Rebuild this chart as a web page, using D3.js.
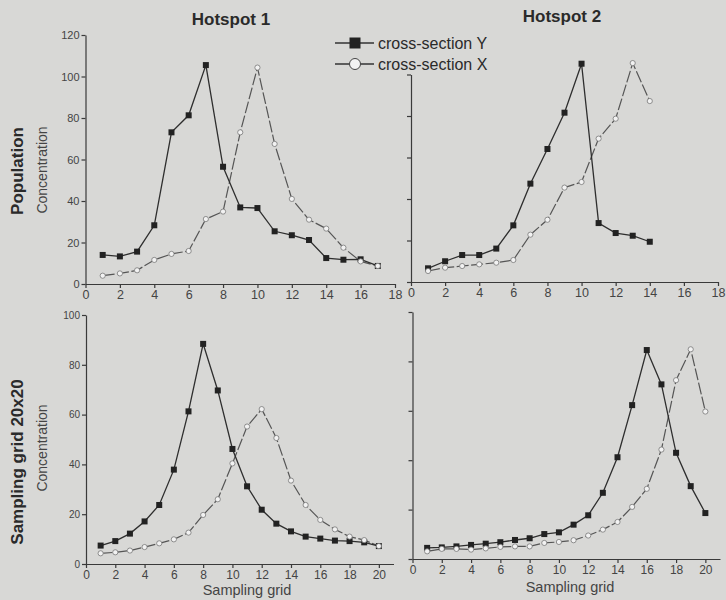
<!DOCTYPE html>
<html>
<head>
<meta charset="utf-8">
<script src="https://cdn.jsdelivr.net/npm/d3@7"></script>
<style>
  body { margin: 0; background: #d8d8d6; }
  svg { display: block; font-family: "Liberation Sans", Arial, sans-serif; }
  .axis path, .axis line { stroke: #3a3a3a; stroke-width: 1.2; }
  .axis text { fill: #444; }
</style>
</head>
<body>
<svg id="chart" width="726" height="600"></svg>
<script>
// values (x = sampling position 1..n)
const popHotspot1Y = [14, 13.3, 15.6, 28.3, 73.1, 81.3, 105.5, 56.5, 36.9, 36.6, 25.4, 23.5, 21.2, 12.5, 11.7, 11.9, 8.7];
const popHotspot1X = [4.0, 5.1, 6.6, 11.6, 14.5, 15.9, 31.3, 34.9, 73.1, 104.3, 67.5, 41.0, 31.0, 26.7, 17.5, 10.9, 8.7];
const popHotspot2Y = [6.6, 10.0, 13.0, 13.0, 16.1, 27.3, 47.4, 64.1, 81.6, 105.2, 28.4, 23.6, 22.3, 19.4];
const popHotspot2X = [5.3, 6.9, 7.7, 8.5, 9.3, 10.6, 22.8, 30.0, 45.5, 48.2, 69.1, 78.7, 105.5, 87.2];
const gridHotspot1Y = [7.4, 9.2, 12.2, 17.1, 23.7, 37.9, 61.3, 88.4, 69.7, 46.2, 31.2, 21.8, 16.2, 13.1, 11.0, 10.2, 9.4, 9.2, 8.7, 7.2];
const gridHotspot1X = [4.3, 4.7, 5.4, 6.8, 8.3, 9.9, 12.6, 19.7, 26.0, 40.4, 55.2, 62.2, 50.6, 33.5, 23.7, 17.7, 13.9, 11.0, 9.6, 7.2];
const gridHotspot2Y = [4.5, 4.7, 5.1, 5.7, 6.2, 6.8, 7.7, 8.4, 10.1, 10.8, 13.9, 17.7, 26.8, 41.2, 62.3, 84.6, 70.7, 43.0, 29.5, 18.6];
const gridHotspot2X = [3.1, 4.1, 4.1, 3.8, 4.3, 4.9, 5.1, 5.1, 6.5, 6.9, 7.6, 9.5, 11.9, 15.0, 21.1, 28.4, 44.3, 72.4, 84.9, 59.7];

const popTicksX = [0, 2, 4, 6, 8, 10, 12, 14, 16, 18];
const gridTicksX = [0, 2, 4, 6, 8, 10, 12, 14, 16, 18, 20];
const popTicksY = [0, 20, 40, 60, 80, 100, 120];
const gridTicksY = [0, 20, 40, 60, 80, 100];

const columnTitles = ['Hotspot 1', 'Hotspot 2'];
const rowTitles = ['Population', 'Sampling grid 20x20'];
const legendLabels = ['cross-section Y', 'cross-section X'];

const panels = [
  { ySeries: popHotspot1Y, xSeries: popHotspot1X, left: 85.5, right: 395, bottom: 284, top: 35,
    xMax: 18, yMax: 120, axisTop: 120, xTicks: popTicksX, yTicks: popTicksY, yLabels: true, yFont: 11, xFont: 12.5 },
  { ySeries: popHotspot2Y, xSeries: popHotspot2X, left: 411, right: 718, bottom: 282, top: 33,
    xMax: 18, yMax: 120, axisTop: 100, xTicks: popTicksX, yTicks: gridTicksY, yLabels: false, xFont: 12.5 },
  { ySeries: gridHotspot1Y, xSeries: gridHotspot1X, left: 86, right: 393.5, bottom: 564, top: 315,
    xMax: 21, yMax: 100, axisTop: 100, xTicks: gridTicksX, yTicks: gridTicksY, yLabels: true, yFont: 10, xFont: 12 },
  { ySeries: gridHotspot2Y, xSeries: gridHotspot2X, left: 412.5, right: 720, bottom: 559, top: 312,
    xMax: 21, yMax: 100, axisTop: 100, xTicks: gridTicksX, yTicks: gridTicksY, yLabels: false, xFont: 12 },
];

const svg = d3.select('#chart');

panels.forEach(p => {
  const x = d3.scaleLinear().domain([0, p.xMax]).range([p.left, p.right]);
  const y = d3.scaleLinear().domain([0, p.yMax]).range([p.bottom, p.top]);
  const yAxisScale = d3.scaleLinear().domain([0, p.axisTop]).range([p.bottom, y(p.axisTop)]);

  const g = svg.append('g');

  g.append('g')
    .attr('class', 'axis')
    .attr('transform', `translate(0,${p.bottom})`)
    .call(d3.axisBottom(x).tickValues(p.xTicks).tickSize(4).tickSizeOuter(0).tickPadding(2))
    .call(a => a.selectAll('text').attr('font-size', p.xFont));

  g.append('g')
    .attr('class', 'axis')
    .attr('transform', `translate(${p.left},0)`)
    .call(d3.axisLeft(yAxisScale).tickValues(p.yTicks).tickSize(4).tickSizeOuter(0).tickPadding(2)
      .tickFormat(p.yLabels ? d3.format('d') : ''))
    .call(a => a.selectAll('text').attr('font-size', p.yFont || 11));

  const line = d3.line()
    .x((d, i) => x(i + 1))
    .y(d => y(d));

  g.append('path')
    .datum(p.xSeries)
    .attr('d', line)
    .attr('fill', 'none')
    .attr('stroke', '#555')
    .attr('stroke-width', 1.2)
    .attr('stroke-dasharray', '12,2.5');

  g.append('path')
    .datum(p.ySeries)
    .attr('d', line)
    .attr('fill', 'none')
    .attr('stroke', '#2e2e2e')
    .attr('stroke-width', 1.3);

  g.selectAll('.sq')
    .data(p.ySeries)
    .join('rect')
    .attr('x', (d, i) => x(i + 1) - 3)
    .attr('y', d => y(d) - 3)
    .attr('width', 6)
    .attr('height', 6)
    .attr('fill', '#222');

  g.selectAll('.circ')
    .data(p.xSeries)
    .join('circle')
    .attr('cx', (d, i) => x(i + 1))
    .attr('cy', d => y(d))
    .attr('r', 2.6)
    .attr('fill', '#f2f2f2')
    .attr('stroke', '#777')
    .attr('stroke-width', 0.8);
});

// column titles
svg.selectAll('.coltitle')
  .data(columnTitles)
  .join('text')
  .attr('x', (d, i) => [231, 562][i])
  .attr('y', (d, i) => [25, 22][i])
  .attr('text-anchor', 'middle')
  .attr('font-size', 17)
  .attr('font-weight', 'bold')
  .attr('fill', '#2a2a2a')
  .text(d => d);

// row titles and y-axis labels
rowTitles.forEach((t, i) => {
  const cy = [171, 462][i];
  svg.append('text')
    .attr('transform', `translate(23,${cy}) rotate(-90)`)
    .attr('text-anchor', 'middle')
    .attr('font-size', 17)
    .attr('font-weight', 'bold')
    .attr('fill', '#2a2a2a')
    .text(t);
  svg.append('text')
    .attr('transform', `translate(47,${[170, 448][i]}) rotate(-90)`)
    .attr('text-anchor', 'middle')
    .attr('font-size', 14)
    .attr('fill', '#444')
    .text('Concentration');
});

// x-axis labels
[247, 570].forEach((cx, i) => {
  svg.append('text')
    .attr('x', cx)
    .attr('y', [595, 592][i])
    .attr('text-anchor', 'middle')
    .attr('font-size', 14.5)
    .attr('fill', '#444')
    .text('Sampling grid');
});

// legend
const legend = svg.append('g');
legendLabels.forEach((label, i) => {
  const ly = [43, 64][i];
  legend.append('line')
    .attr('x1', 335).attr('x2', 374)
    .attr('y1', ly).attr('y2', ly)
    .attr('stroke', '#333').attr('stroke-width', 1.3);
  if (i === 0) {
    legend.append('rect')
      .attr('x', 349.5).attr('y', ly - 5.5)
      .attr('width', 11).attr('height', 11)
      .attr('fill', '#222');
  } else {
    legend.append('circle')
      .attr('cx', 355).attr('cy', ly).attr('r', 5.5)
      .attr('fill', '#f2f2f2').attr('stroke', '#444').attr('stroke-width', 1);
  }
  legend.append('text')
    .attr('x', 378)
    .attr('y', ly + 5.5)
    .attr('font-size', 16)
    .attr('fill', '#2a2a2a')
    .text(label);
});
</script>
</body>
</html>
